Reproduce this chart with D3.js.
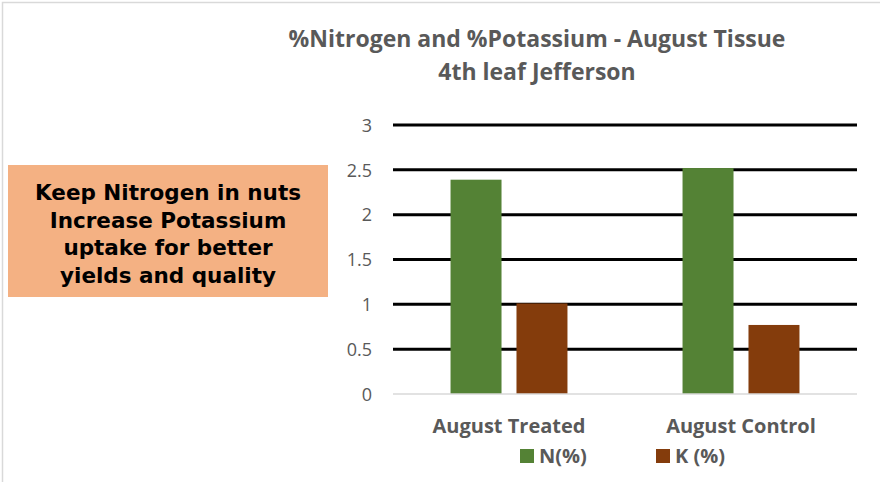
<!DOCTYPE html>
<html>
<head>
<meta charset="utf-8">
<script src="https://d3js.org/d3.v7.min.js"></script>
<style>
  body { margin: 0; background: #fff; }
  svg { display: block; }
</style>
</head>
<body>
<svg id="chart"></svg>
<script>
  // data
  var categories = ["August Treated", "August Control"];
  var seriesNames = ["N(%)", "K (%)"];
  var nValues = [2.39, 2.52];
  var kValues = [1.01, 0.77];
  var yTicks = [0, 0.5, 1, 1.5, 2, 2.5, 3];
  var titleLines = ["%Nitrogen and %Potassium - August Tissue", "4th leaf Jefferson"];
  var noteLines = ["Keep Nitrogen in nuts", "Increase Potassium", "uptake for better", "yields and quality"];

  var width = 880, height = 482;
  var colors = ["#548235", "#843C0C"];
  var textGrey = "#595959";

  var svg = d3.select("#chart").attr("width", width).attr("height", height);

  // outer frame
  svg.append("rect").attr("x", 2.5).attr("y", 2.5).attr("width", width).attr("height", height)
    .attr("fill", "none").attr("stroke", "#d9d9d9").attr("stroke-width", 1.5);

  var plot = { left: 393, right: 857, top: 125, bottom: 394 };

  var y = d3.scaleLinear().domain([0, 3]).range([plot.bottom, plot.top]);
  var x0 = d3.scaleBand().domain(categories).range([plot.left, plot.right]).paddingInner(0.496).paddingOuter(0.248);
  var x1 = d3.scaleBand().domain(seriesNames).range([0, x0.bandwidth()]).paddingInner(0.227);

  // title
  svg.append("g").selectAll("text")
    .data(titleLines)
    .enter().append("text")
    .attr("x", 537)
    .attr("y", function(d, i) { return 47 + i * 33; })
    .attr("text-anchor", "middle")
    .style("font-family", "Open Sans")
    .style("font-weight", 700)
    .style("font-size", "23px")
    .style("fill", textGrey)
    .text(function(d) { return d; });

  // gridlines (zero is drawn as the axis line)
  svg.append("g").selectAll("line")
    .data(yTicks.filter(function(t) { return t > 0; }))
    .enter().append("line")
    .attr("x1", plot.left).attr("x2", plot.right)
    .attr("y1", function(d) { return y(d); }).attr("y2", function(d) { return y(d); })
    .attr("stroke", "#000").attr("stroke-width", 3);

  // y axis labels
  var yAxis = svg.append("g").attr("transform", "translate(372,0)")
    .call(d3.axisLeft(y).tickValues(yTicks).tickSize(0).tickFormat(d3.format("")));
  yAxis.select(".domain").remove();
  yAxis.selectAll("text")
    .attr("x", 0)
    .attr("dy", "0.35em")
    .style("font-family", "Open Sans")
    .style("font-size", "18px")
    .style("fill", textGrey);

  // bars
  var groups = svg.append("g").selectAll("g")
    .data(categories)
    .enter().append("g")
    .attr("transform", function(d) { return "translate(" + x0(d) + ",0)"; });

  groups.selectAll("rect")
    .data(function(d, i) { return [nValues[i], kValues[i]].map(function(v, j) { return { s: seriesNames[j], v: v, c: colors[j] }; }); })
    .enter().append("rect")
    .attr("x", function(d) { return x1(d.s); })
    .attr("width", x1.bandwidth())
    .attr("y", function(d) { return y(d.v); })
    .attr("height", function(d) { return y(0) - y(d.v); })
    .attr("fill", function(d) { return d.c; });

  // baseline
  svg.append("line")
    .attr("x1", plot.left).attr("x2", plot.right)
    .attr("y1", y(0)).attr("y2", y(0))
    .attr("stroke", "#d9d9d9").attr("stroke-width", 1.5);

  // category labels
  svg.append("g").selectAll("text")
    .data(categories)
    .enter().append("text")
    .attr("x", function(d) { return x0(d) + x0.bandwidth() / 2; })
    .attr("y", 433)
    .attr("text-anchor", "middle")
    .style("font-family", "Open Sans")
    .style("font-weight", 700)
    .style("font-size", "20px")
    .style("fill", textGrey)
    .text(function(d) { return d; });

  // legend
  var legendX = [520, 656];
  var legend = svg.append("g").selectAll("g")
    .data(seriesNames)
    .enter().append("g")
    .attr("transform", function(d, i) { return "translate(" + legendX[i] + ",449)"; });
  legend.append("rect").attr("width", 14).attr("height", 14)
    .attr("fill", function(d, i) { return colors[i]; });
  legend.append("text")
    .attr("x", 19).attr("y", 14)
    .style("font-family", "Open Sans")
    .style("font-weight", 700)
    .style("font-size", "20px")
    .style("fill", textGrey)
    .text(function(d) { return d; });

  // note box
  svg.append("rect").attr("x", 8).attr("y", 165).attr("width", 320).attr("height", 132)
    .attr("fill", "#F4B183");
  svg.append("g").selectAll("text")
    .data(noteLines)
    .enter().append("text")
    .attr("x", 168)
    .attr("y", function(d, i) { return 200 + i * 27.7; })
    .attr("text-anchor", "middle")
    .style("font-family", "DejaVu Sans")
    .style("font-weight", 700)
    .style("font-size", "21.5px")
    .style("fill", "#000")
    .text(function(d) { return d; });
</script>
</body>
</html>
